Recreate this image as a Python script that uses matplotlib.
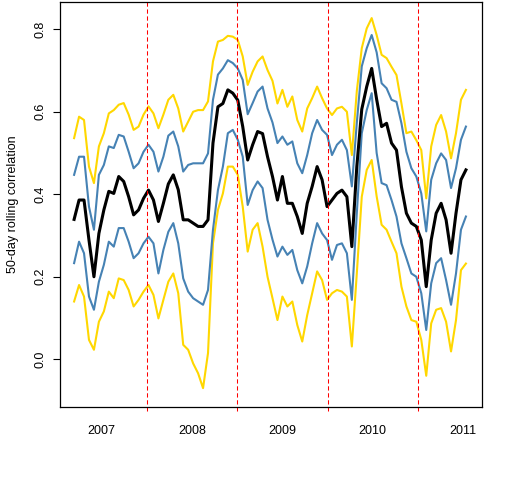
import numpy as np
import pandas as pd
import matplotlib
matplotlib.use("Agg")
import matplotlib.pyplot as plt
import matplotlib.dates as mdates
import matplotlib.transforms as mtransforms

plt.rcParams['font.family'] = ['Liberation Sans', 'DejaVu Sans']

# dates of the rolling window ends
dates = pd.date_range('2007-03-13', '2011-07-14', periods=80)

corr = [0.339, 0.386, 0.386, 0.289, 0.2, 0.305, 0.362, 0.407, 0.402, 0.443,
        0.431, 0.394, 0.35, 0.362, 0.39, 0.41, 0.386, 0.334, 0.378, 0.425,
        0.447, 0.411, 0.338, 0.338, 0.33, 0.322, 0.322, 0.338, 0.524, 0.612,
        0.62, 0.653, 0.645, 0.628, 0.564, 0.483, 0.52, 0.552, 0.547, 0.491,
        0.443, 0.386, 0.443, 0.378, 0.378, 0.346, 0.305, 0.378, 0.419, 0.467,
        0.435, 0.37, 0.386, 0.402, 0.41, 0.394, 0.273, 0.467, 0.606, 0.661,
        0.705, 0.63, 0.564, 0.572, 0.524, 0.507, 0.418, 0.354, 0.33, 0.322,
        0.289, 0.176, 0.289, 0.354, 0.378, 0.338, 0.257, 0.354, 0.435, 0.459]

inner_hi = [0.447, 0.491, 0.491, 0.37, 0.314, 0.447, 0.471, 0.516, 0.512, 0.544,
            0.54, 0.503, 0.463, 0.475, 0.503, 0.52, 0.503, 0.455, 0.491, 0.542,
            0.552, 0.516, 0.455, 0.471, 0.475, 0.475, 0.475, 0.499, 0.629, 0.69,
            0.705, 0.725, 0.718, 0.705, 0.677, 0.594, 0.621, 0.649, 0.661, 0.608,
            0.574, 0.524, 0.54, 0.52, 0.528, 0.475, 0.451, 0.495, 0.548, 0.58,
            0.556, 0.544, 0.495, 0.52, 0.532, 0.507, 0.419, 0.573, 0.71, 0.754,
            0.786, 0.744, 0.669, 0.657, 0.629, 0.624, 0.572, 0.503, 0.463, 0.443,
            0.402, 0.31, 0.435, 0.475, 0.499, 0.483, 0.415, 0.463, 0.532, 0.564]

inner_lo = [0.233, 0.285, 0.257, 0.152, 0.12, 0.188, 0.229, 0.285, 0.273, 0.318,
            0.318, 0.285, 0.245, 0.257, 0.281, 0.297, 0.281, 0.208, 0.265, 0.309,
            0.33, 0.281, 0.196, 0.164, 0.148, 0.14, 0.132, 0.168, 0.314, 0.41,
            0.467, 0.548, 0.556, 0.532, 0.491, 0.374, 0.41, 0.431, 0.415, 0.338,
            0.29, 0.249, 0.273, 0.253, 0.265, 0.216, 0.184, 0.225, 0.281, 0.33,
            0.305, 0.289, 0.241, 0.277, 0.281, 0.257, 0.144, 0.354, 0.548, 0.604,
            0.645, 0.5, 0.427, 0.422, 0.386, 0.346, 0.281, 0.245, 0.208, 0.2,
            0.16, 0.071, 0.184, 0.233, 0.245, 0.192, 0.132, 0.208, 0.314, 0.346]

outer_hi = [0.536, 0.588, 0.58, 0.467, 0.427, 0.516, 0.548, 0.596, 0.604, 0.617,
            0.621, 0.593, 0.556, 0.564, 0.593, 0.613, 0.596, 0.56, 0.593, 0.629,
            0.641, 0.608, 0.552, 0.576, 0.6, 0.604, 0.604, 0.625, 0.722, 0.77,
            0.774, 0.784, 0.782, 0.774, 0.734, 0.665, 0.697, 0.722, 0.734, 0.701,
            0.675, 0.62, 0.653, 0.612, 0.637, 0.58, 0.552, 0.608, 0.633, 0.661,
            0.633, 0.608, 0.592, 0.608, 0.612, 0.6, 0.495, 0.65, 0.754, 0.802,
            0.827, 0.786, 0.738, 0.73, 0.709, 0.689, 0.62, 0.548, 0.552, 0.531,
            0.507, 0.39, 0.516, 0.568, 0.592, 0.552, 0.487, 0.548, 0.629, 0.653]

outer_lo = [0.14, 0.18, 0.152, 0.047, 0.023, 0.091, 0.116, 0.164, 0.148, 0.196,
            0.192, 0.168, 0.128, 0.144, 0.164, 0.18, 0.156, 0.099, 0.144, 0.188,
            0.208, 0.16, 0.035, 0.023, -0.01, -0.034, -0.07, 0.015, 0.281, 0.362,
            0.402, 0.467, 0.467, 0.447, 0.37, 0.261, 0.314, 0.33, 0.273, 0.2,
            0.148, 0.095, 0.152, 0.128, 0.14, 0.083, 0.043, 0.107, 0.16, 0.213,
            0.192, 0.144, 0.16, 0.168, 0.164, 0.152, 0.031, 0.208, 0.394, 0.459,
            0.483, 0.395, 0.326, 0.314, 0.285, 0.257, 0.176, 0.128, 0.095, 0.091,
            0.047, -0.04, 0.087, 0.12, 0.124, 0.091, 0.019, 0.095, 0.216, 0.232]

year_breaks = ['2008-01-01', '2009-01-01', '2010-01-01', '2011-01-01']
year_labels = ['2007', '2008', '2009', '2010', '2011']

fig = plt.figure(figsize=(5.12, 4.8), dpi=100)
ax = fig.add_axes([60/512, 1 - 406.5/480, 422/512, 404.5/480])

ax.plot(dates, outer_hi, color='#FFD700', lw=1.5)
ax.plot(dates, outer_lo, color='#FFD700', lw=1.5)
ax.plot(dates, inner_hi, color='#4682B4', lw=1.5)
ax.plot(dates, inner_lo, color='#4682B4', lw=1.5)
ax.plot(dates, corr, color='black', lw=2.2)

# year boundaries, drawn a bit past the box like the original
trans = mtransforms.blended_transform_factory(ax.transData, ax.transAxes)
for d in year_breaks:
    x = mdates.date2num(pd.Timestamp(d))
    ax.plot([x, x], [-0.01, 1.005], transform=trans, color='red', lw=0.75,
            dashes=(4.1, 2.6), clip_on=False)

ax.set_xlim(pd.Timestamp('2007-01-15'), pd.Timestamp('2011-09-17'))
ax.set_ylim(-0.1145, 0.866)

mid = [pd.Timestamp(y + '-07-02') for y in year_labels]
ax.set_xticks(mid)
ax.set_xticklabels(year_labels, fontsize=9)
ax.tick_params(axis='x', length=0, pad=13)

ax.set_yticks([0.0, 0.2, 0.4, 0.6, 0.8])
ax.set_yticklabels(['0.0', '0.2', '0.4', '0.6', '0.8'], rotation=90,
                   va='center', fontsize=9)
ax.tick_params(axis='y', length=5, width=0.8, pad=5)
ax.set_ylabel('50-day rolling correlation', fontsize=9, labelpad=11)

for s in ax.spines.values():
    s.set_linewidth(0.9)

fig.savefig('out.png', dpi=100)
